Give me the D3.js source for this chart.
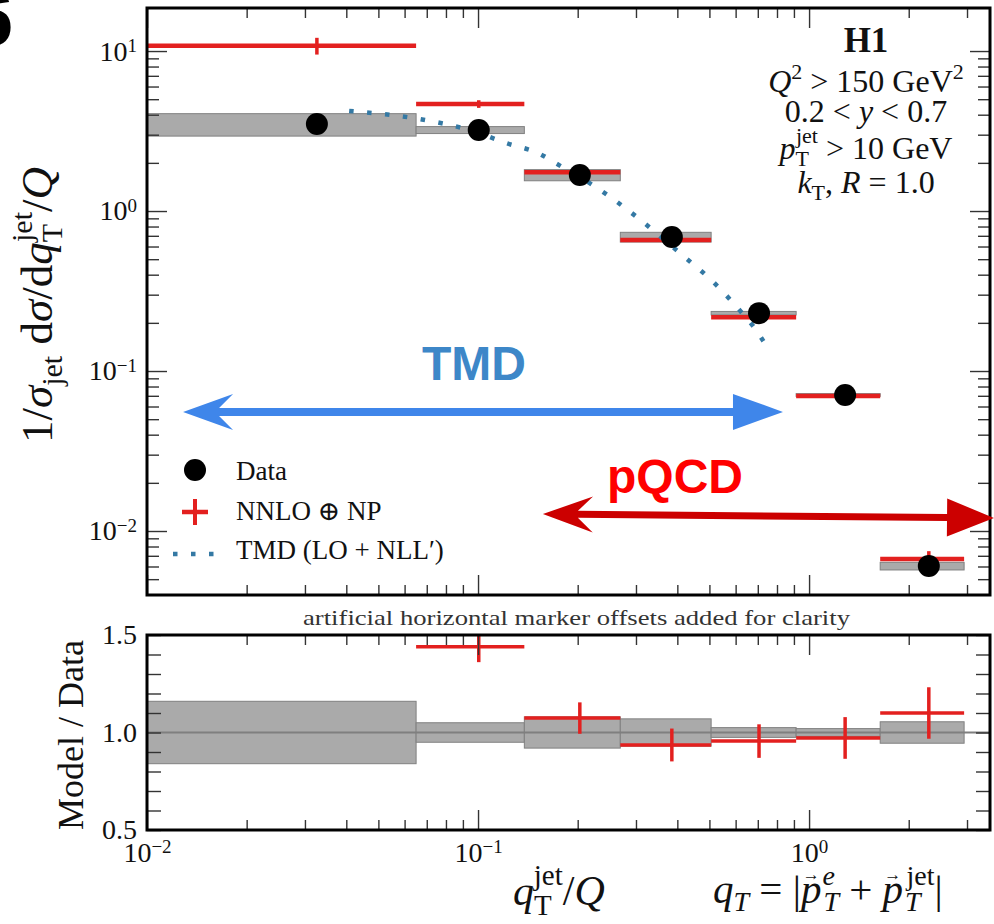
<!DOCTYPE html>
<meta charset="utf-8">
<script src="https://d3js.org/d3.v7.min.js"></script>
<style>
  body { margin: 0; background: #fff; }
  svg text { font-family: "Liberation Serif", "DejaVu Serif", serif; fill: #111; }
  .tick line { stroke: #333; stroke-width: 1.4; }
  .domain { display: none; }
</style>
<body></body>
<script>
// values
var binEdges  = [0.004, 0.065, 0.138, 0.269, 0.506, 0.914, 1.64, 2.94];
var dataX     = [0.0326, 0.1005, 0.203, 0.385, 0.706, 1.285, 2.30];   // marker positions (with offsets)
var dataY     = [3.5, 3.21, 1.68, 0.688, 0.230, 0.0708, 0.00604];
var dataUnc   = [0.16, 0.05, 0.08, 0.07, 0.025, 0.02, 0.055];          // relative, grey boxes
var nnloY     = [10.8, 4.67, 1.75, 0.659, 0.217, 0.0699, 0.00668];
var nnloRatio = [3.1, 1.44, 1.074, 0.936, 0.956, 0.972, 1.10];
var nnloErr   = [0.12, 0.055, 0.075, 0.09, 0.09, 0.11, 0.12];          // relative
var tmdX = [0.0408, 0.0663, 0.0966, 0.1215, 0.154, 0.171, 0.232, 0.286, 0.410, 0.506, 0.597, 0.701, 0.757];
var tmdY = [4.22, 3.76, 3.16, 2.66, 2.27, 2.0, 1.37, 1.0, 0.539, 0.371, 0.259, 0.173, 0.135];

var yMajor = [0.01, 0.1, 1, 10];
var yMajorExp = ["\u22122", "\u22121", "0", "1"];
var xMajor = [0.01, 0.1, 1];
var xMajorExp = ["\u22122", "\u22121", "0"];
var rMajor = [0.5, 1.0, 1.5];
var rMinor = [0.6, 0.7, 0.8, 0.9, 1.1, 1.2, 1.3, 1.4];

// annotation arrows in data coordinates
var tmdArrow  = {x1: 0.01285, x2: 0.834, y1: 0.0555, y2: 0.0555};
var pqcdArrow = {x1: 0.157, x2: 3.62, y1: 0.01277, y2: 0.01206};

var W = 994, H = 924;
var left = 147, right = 990;
var mainTop = 8, mainBottom = 595, ratTop = 635, ratBottom = 830;

var svg = d3.select("body").append("svg")
    .attr("width", W)
    .attr("height", H);

var x = d3.scaleLog().domain([0.01, 3.52]).range([left, right]);
var y = d3.scaleLog().domain([Math.pow(10, -2.4), Math.pow(10, 1.269)]).range([mainBottom, mainTop]);
var yr = d3.scaleLinear().domain([0.5, 1.5]).range([ratBottom, ratTop]);

function logMinor(lo, hi) {
    var out = [];
    for (var e = -3; e <= 1; e++)
        for (var m = 2; m <= 9; m++) {
            var v = m * Math.pow(10, e);
            if (v > lo && v < hi) out.push(v);
        }
    return out;
}
var xMinor = logMinor(0.01, 3.52);
var yMinor = logMinor(y.domain()[0], y.domain()[1]);

var defs = svg.append("defs");
defs.append("clipPath").attr("id", "clipMain").append("rect")
    .attr("x", left).attr("y", mainTop).attr("width", right - left).attr("height", mainBottom - mainTop);
defs.append("clipPath").attr("id", "clipRat").append("rect")
    .attr("x", left).attr("y", ratTop).attr("width", right - left).attr("height", ratBottom - ratTop);

// panel label cut at the corner
svg.append("text").attr("x", -31).attr("y", 45)
    .style("font-family", "Liberation Sans, Arial, sans-serif")
    .style("font-weight", "bold").style("font-size", "80px").style("fill", "#000")
    .text("6");

var bins = d3.range(dataY.length);

// ---------- main panel ----------
var gMain = svg.append("g").attr("clip-path", "url(#clipMain)");

gMain.selectAll(".dbox").data(bins).enter().append("rect")
    .attr("x", function(i) { return x(binEdges[i]); })
    .attr("width", function(i) { return x(binEdges[i + 1]) - x(binEdges[i]); })
    .attr("y", function(i) { return y(dataY[i] * (1 + dataUnc[i])); })
    .attr("height", function(i) { return y(dataY[i] * (1 - dataUnc[i])) - y(dataY[i] * (1 + dataUnc[i])); })
    .attr("fill", "#aaaaaa").attr("stroke", "#808080").attr("stroke-width", 1);

gMain.selectAll(".nh").data(bins).enter().append("line")
    .attr("x1", function(i) { return x(binEdges[i]); })
    .attr("x2", function(i) { return x(binEdges[i + 1]); })
    .attr("y1", function(i) { return y(nnloY[i]); })
    .attr("y2", function(i) { return y(nnloY[i]); })
    .attr("stroke", "#e3201f").attr("stroke-width", 4.5);

gMain.selectAll(".nv").data(bins).enter().append("line")
    .attr("x1", function(i) { return x(dataX[i]); })
    .attr("x2", function(i) { return x(dataX[i]); })
    .attr("y1", function(i) { return y(nnloY[i] * (1 + nnloErr[i])); })
    .attr("y2", function(i) { return y(nnloY[i] * (1 - nnloErr[i])); })
    .attr("stroke", "#e3201f").attr("stroke-width", 3.5);

var tmdLine = d3.line()
    .x(function(d) { return x(d[0]); })
    .y(function(d) { return y(d[1]); })
    .curve(d3.curveMonotoneX);

gMain.append("path")
    .datum(d3.zip(tmdX, tmdY))
    .attr("d", tmdLine)
    .attr("fill", "none")
    .attr("stroke", "#3479a4").attr("stroke-width", 4.5)
    .attr("stroke-dasharray", "4.5,13.5");

gMain.selectAll(".dot").data(bins).enter().append("circle")
    .attr("cx", function(i) { return x(dataX[i]); })
    .attr("cy", function(i) { return y(dataY[i]); })
    .attr("r", 11)
    .attr("fill", "#000");

// ---------- ratio panel ----------
var gRat = svg.append("g").attr("clip-path", "url(#clipRat)");

gRat.selectAll(".rbox").data(bins).enter().append("rect")
    .attr("x", function(i) { return x(binEdges[i]); })
    .attr("width", function(i) { return x(binEdges[i + 1]) - x(binEdges[i]); })
    .attr("y", function(i) { return yr(1 + dataUnc[i]); })
    .attr("height", function(i) { return yr(1 - dataUnc[i]) - yr(1 + dataUnc[i]); })
    .attr("fill", "#aaaaaa").attr("stroke", "#808080").attr("stroke-width", 1);

gRat.append("line")
    .attr("x1", left).attr("x2", right)
    .attr("y1", yr(1)).attr("y2", yr(1))
    .attr("stroke", "#7f7f7f").attr("stroke-width", 2);

gRat.selectAll(".rh").data(bins).enter().append("line")
    .attr("x1", function(i) { return x(binEdges[i]); })
    .attr("x2", function(i) { return x(binEdges[i + 1]); })
    .attr("y1", function(i) { return yr(nnloRatio[i]); })
    .attr("y2", function(i) { return yr(nnloRatio[i]); })
    .attr("stroke", "#e3201f").attr("stroke-width", 3.5);

gRat.selectAll(".rv").data(bins).enter().append("line")
    .attr("x1", function(i) { return x(dataX[i]); })
    .attr("x2", function(i) { return x(dataX[i]); })
    .attr("y1", function(i) { return yr(nnloRatio[i] * (1 + nnloErr[i])); })
    .attr("y2", function(i) { return yr(nnloRatio[i] * (1 - nnloErr[i])); })
    .attr("stroke", "#e3201f").attr("stroke-width", 3.5);

// ---------- axes (inward ticks, all four sides) ----------
function addAxis(axis, tx, ty) {
    var g = svg.append("g")
        .attr("transform", "translate(" + tx + "," + ty + ")")
        .call(axis)
        .attr("font-family", null).attr("font-size", null);
    return g;
}
function supLabels(g, exps) {
    g.selectAll(".tick text").each(function(d, i) {
        var t = d3.select(this).text(null).style("font-size", "28px");
        t.append("tspan").text("10");
        t.append("tspan").attr("dy", "-0.45em").style("font-size", "19px").text(exps[i]);
    });
}

var gy = addAxis(d3.axisLeft(y).tickValues(yMajor).tickSize(-20).tickPadding(10), left, 0);
supLabels(gy, yMajorExp);
addAxis(d3.axisLeft(y).tickValues(yMinor).tickSize(-12).tickFormat(""), left, 0);
addAxis(d3.axisRight(y).tickValues(yMajor).tickSize(-20).tickFormat(""), right, 0);
addAxis(d3.axisRight(y).tickValues(yMinor).tickSize(-12).tickFormat(""), right, 0);
[mainTop, ratTop].forEach(function(t) {
    addAxis(d3.axisTop(x).tickValues(xMajor).tickSize(-20).tickFormat(""), 0, t);
    addAxis(d3.axisTop(x).tickValues(xMinor).tickSize(-10).tickFormat(""), 0, t);
});
addAxis(d3.axisBottom(x).tickValues(xMajor).tickSize(-20).tickFormat(""), 0, mainBottom);
addAxis(d3.axisBottom(x).tickValues(xMinor).tickSize(-10).tickFormat(""), 0, mainBottom);
var gx = addAxis(d3.axisBottom(x).tickValues(xMajor).tickSize(-20).tickPadding(12), 0, ratBottom);
supLabels(gx, xMajorExp);
addAxis(d3.axisBottom(x).tickValues(xMinor).tickSize(-10).tickFormat(""), 0, ratBottom);

var gr = addAxis(d3.axisLeft(yr).tickValues(rMajor).tickSize(-14).tickPadding(10).tickFormat(d3.format(".1f")), left, 0);
gr.selectAll(".tick text").style("font-size", "28px");
addAxis(d3.axisLeft(yr).tickValues(rMinor).tickSize(-14).tickFormat(""), left, 0);
addAxis(d3.axisRight(yr).tickValues(rMajor.concat(rMinor)).tickSize(-14).tickFormat(""), right, 0);

// frames
[[mainTop, mainBottom], [ratTop, ratBottom]].forEach(function(p) {
    svg.append("rect").attr("x", left).attr("y", p[0])
        .attr("width", right - left).attr("height", p[1] - p[0])
        .attr("fill", "none").attr("stroke", "#000").attr("stroke-width", 3);
});

// ---------- axis titles ----------
var yt = svg.append("text")
    .attr("transform", "translate(52," + 305 + ") rotate(-90)")
    .attr("text-anchor", "middle")
    .style("font-size", "45px");
yt.append("tspan").text("1/");
yt.append("tspan").style("font-style", "italic").text("\u03c3");
yt.append("tspan").attr("dy", 10).style("font-size", "30px").text("jet");
yt.append("tspan").attr("dy", -10).text(" d");
yt.append("tspan").style("font-style", "italic").text("\u03c3");
yt.append("tspan").text("/d");
yt.append("tspan").style("font-style", "italic").text("q");
yt.append("tspan").attr("dy", 10).style("font-size", "30px").text("T");
yt.append("tspan").attr("dx", -18).attr("dy", -30).style("font-size", "30px").text("jet");
yt.append("tspan").attr("dy", 20).text("/");
yt.append("tspan").style("font-style", "italic").text("Q");

svg.append("text")
    .attr("transform", "translate(83,735) rotate(-90)")
    .attr("text-anchor", "middle")
    .style("font-size", "36px")
    .text("Model / Data");

var xt = svg.append("text").attr("x", 513).attr("y", 905).style("font-size", "42px");
xt.append("tspan").style("font-style", "italic").text("q");
xt.append("tspan").attr("dy", 10).style("font-size", "29px").text("T");
xt.append("tspan").attr("dx", -18).attr("dy", -30).style("font-size", "29px").text("jet");
xt.append("tspan").attr("dy", 20).text("/");
xt.append("tspan").style("font-style", "italic").text("Q");

// q_T = |p_T^e + p_T^jet| with vector arrows drawn over the p's
var xt2 = svg.append("text").attr("x", 713).attr("y", 903).style("font-size", "41px");
xt2.append("tspan").style("font-style", "italic").text("q");
xt2.append("tspan").attr("dy", 8).style("font-size", "28px").style("font-style", "italic").text("T");
xt2.append("tspan").attr("dy", -8).text(" = |");
xt2.append("tspan").attr("class", "vec").style("font-style", "italic").text("p");
xt2.append("tspan").attr("dx", 2).attr("dy", 8).style("font-size", "28px").style("font-style", "italic").text("T");
xt2.append("tspan").attr("dx", -14).attr("dy", -26).style("font-size", "28px").style("font-style", "italic").text("e");
xt2.append("tspan").attr("dx", 4).attr("dy", 18).text(" + ");
xt2.append("tspan").attr("class", "vec").style("font-style", "italic").text("p");
xt2.append("tspan").attr("dx", 2).attr("dy", 8).style("font-size", "28px").style("font-style", "italic").text("T");
xt2.append("tspan").attr("dx", -14).attr("dy", -26).style("font-size", "28px").text("jet");
xt2.append("tspan").attr("dy", 18).text("|");
xt2.selectAll(".vec").each(function() {
    var r = this.getExtentOfChar(0);
    svg.append("text")
        .attr("x", r.x + r.width * 0.5).attr("y", 880)
        .attr("text-anchor", "middle")
        .style("font-size", "17px")
        .text("\u2192");
});

svg.append("text").attr("x", 303).attr("y", 625)
    .attr("textLength", 547).attr("lengthAdjust", "spacingAndGlyphs")
    .style("font-size", "22px").style("fill", "#333")
    .text("artificial horizontal marker offsets added for clarity");

// ---------- H1 cut labels ----------
var cx = 866;
svg.append("text").attr("x", cx).attr("y", 52).attr("text-anchor", "middle")
    .style("font-size", "35px").style("font-weight", "bold").text("H1");

var l1 = svg.append("text").attr("x", cx).attr("y", 92).attr("text-anchor", "middle").style("font-size", "32px");
l1.append("tspan").style("font-style", "italic").text("Q");
l1.append("tspan").attr("dy", -13).style("font-size", "22px").text("2");
l1.append("tspan").attr("dy", 13).text(" > 150 GeV");
l1.append("tspan").attr("dy", -13).style("font-size", "22px").text("2");

var l2 = svg.append("text").attr("x", cx).attr("y", 122).attr("text-anchor", "middle").style("font-size", "32px");
l2.append("tspan").text("0.2 < ");
l2.append("tspan").style("font-style", "italic").text("y");
l2.append("tspan").text(" < 0.7");

var l3 = svg.append("text").attr("x", cx).attr("y", 159).attr("text-anchor", "middle").style("font-size", "32px");
l3.append("tspan").style("font-style", "italic").text("p");
l3.append("tspan").attr("dy", 7).style("font-size", "22px").text("T");
l3.append("tspan").attr("dx", -13).attr("dy", -23).style("font-size", "22px").text("jet");
l3.append("tspan").attr("dy", 16).text(" > 10 GeV");

var l4 = svg.append("text").attr("x", cx).attr("y", 193).attr("text-anchor", "middle").style("font-size", "32px");
l4.append("tspan").style("font-style", "italic").text("k");
l4.append("tspan").attr("dy", 7).style("font-size", "22px").text("T");
l4.append("tspan").attr("dy", -7).text(", ");
l4.append("tspan").style("font-style", "italic").text("R");
l4.append("tspan").text(" = 1.0");

// ---------- legend ----------
svg.append("circle").attr("cx", 195).attr("cy", 470).attr("r", 11).attr("fill", "#000");
svg.append("line").attr("x1", 182).attr("x2", 208).attr("y1", 512).attr("y2", 512)
    .attr("stroke", "#e3201f").attr("stroke-width", 4.5);
svg.append("line").attr("x1", 195).attr("x2", 195).attr("y1", 499).attr("y2", 525)
    .attr("stroke", "#e3201f").attr("stroke-width", 4);
svg.append("line").attr("x1", 173).attr("x2", 214).attr("y1", 554).attr("y2", 554)
    .attr("stroke", "#3479a4").attr("stroke-width", 4.5).attr("stroke-dasharray", "4.5,13.5");

var legTexts = ["Data", "NNLO \u2295 NP", "TMD (LO + NLL\u2032)"];
var legY = [480, 520, 559];
legTexts.forEach(function(t, i) {
    svg.append("text").attr("x", 236).attr("y", legY[i]).style("font-size", "27px").text(t);
});

// ---------- TMD / pQCD arrows ----------
function arrow(a, o) {
    var p1 = [x(a.x1), y(a.y1)], p2 = [x(a.x2), y(a.y2)];
    var dx = p2[0] - p1[0], dy = p2[1] - p1[1], len = Math.hypot(dx, dy);
    var ux = dx / len, uy = dy / len, nx = -uy, ny = ux;
    function pt(b, s, n) { return [b[0] + ux * s + nx * n, b[1] + uy * s + ny * n]; }
    var h = o.shaft / 2;
    var pts = [p1,
        pt(p1, o.len1, o.half1), pt(p1, o.len1 - o.notch1, h),
        pt(p2, -(o.len2 - o.notch2), h), pt(p2, -o.len2, o.half2),
        p2,
        pt(p2, -o.len2, -o.half2), pt(p2, -(o.len2 - o.notch2), -h),
        pt(p1, o.len1 - o.notch1, -h), pt(p1, o.len1, -o.half1)];
    svg.append("path").attr("d", "M" + pts.join("L") + "Z").attr("fill", o.color);
}
arrow(tmdArrow, {shaft: 8, len1: 50, half1: 18, notch1: 14, len2: 50, half2: 18, notch2: 0, color: "#3f86ea"});
arrow(pqcdArrow, {shaft: 7, len1: 50, half1: 18, notch1: 15, len2: 47, half2: 19, notch2: 0, color: "#cc0000"});

svg.append("text").attr("x", 474).attr("y", 380).attr("text-anchor", "middle")
    .style("font-family", "Liberation Sans, Arial, sans-serif").style("font-weight", "bold")
    .style("font-size", "48px").style("fill", "#3d87c8").text("TMD");
svg.append("text").attr("x", 675).attr("y", 493).attr("text-anchor", "middle")
    .style("font-family", "Liberation Sans, Arial, sans-serif").style("font-weight", "bold")
    .style("font-size", "48px").style("fill", "#ff0000").text("pQCD");
</script>
